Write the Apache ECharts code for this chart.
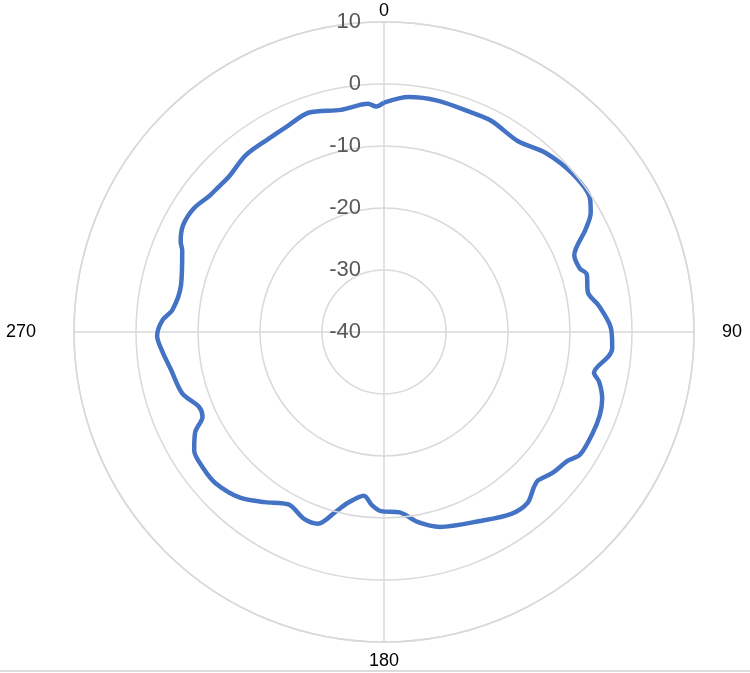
<!DOCTYPE html>
<html>
<head>
<meta charset="utf-8">
<script src="https://cdn.jsdelivr.net/npm/echarts@6/dist/echarts.min.js"></script>
<style>
html,body{margin:0;padding:0;background:#fff;}
#chart{width:750px;height:673px;}
</style>
</head>
<body>
<div id="chart"></div>
<script>
// Angle (degrees, clockwise from top) of each traced point
const angles = [0, 6, 13, 21, 27, 35, 42, 50, 57, 60, 63, 68, 72, 74, 79, 83, 89, 94, 96, 101, 103, 107, 111, 116, 122, 125, 130, 134, 136, 140, 145, 153, 164, 170, 175, 181, 184, 187, 192, 195, 199, 203, 209, 215, 221, 228, 233, 238, 242, 245, 248, 253, 260, 265, 269, 273, 276, 283, 292, 294, 298, 303, 308, 311, 315, 322, 329, 335, 341, 349, 356, 358, 360];
// Radial value at each angle
const values = [-3.0, -1.9, -1.7, -1.9, -1.8, -2.4, -1.1, -0.3, -0.4, -1.5, -3.5, -6.9, -6.8, -6.0, -6.5, -5.1, -3.4, -3.1, -3.5, -5.5, -4.4, -3.2, -2.7, -2.6, -2.7, -3.8, -4.6, -5.5, -5.2, -4.0, -4.2, -5.8, -7.3, -8.9, -10.8, -11.1, -12.0, -13.4, -11.8, -10.0, -7.3, -7.2, -8.2, -6.5, -4.6, -3.5, -3.5, -3.9, -5.5, -7.7, -7.8, -6.0, -5.1, -4.1, -3.4, -4.2, -5.7, -6.4, -4.9, -4.1, -3.3, -3.4, -4.3, -4.5, -4.6, -3.8, -3.7, -3.3, -2.6, -3.5, -3.1, -3.6, -3.0];
const angleTicks = [0, 90, 180, 270];
const radiusTicks = [-40, -30, -20, -10, 0, 10];

const data = angles.map((a, i) => [values[i], a]);
const gridColor = '#d9d9d9';

const chart = echarts.init(document.getElementById('chart'), null, {renderer: 'canvas'});
chart.setOption({
  animation: false,
  backgroundColor: '#ffffff',
  polar: { center: [384, 332], radius: 310 },
  angleAxis: {
    type: 'value',
    min: angleTicks[0],
    max: 360,
    interval: 90,
    startAngle: 90,
    clockwise: true,
    axisLine: { show: true, lineStyle: { color: gridColor, width: 1.5 } },
    axisTick: { show: false },
    splitLine: { show: true, lineStyle: { color: gridColor, width: 1.5 } },
    axisLabel: {
      margin: 2,
      fontFamily: 'Liberation Sans',
      fontSize: 18,
      color: '#000000',
      formatter: function (v) {
        if (v === 360) return '';
        if (v === 90) return '{r|' + v + '}';
        if (v === 270) return '{l|' + v + '}';
        if (v === 180) return '{b|' + v + '}';
        return '{t|' + v + '}';
      },
      rich: {
        r: { fontFamily: 'Liberation Sans', fontSize: 18, color: '#000', padding: [0, 0, 0, 26] },
        l: { fontFamily: 'Liberation Sans', fontSize: 18, color: '#000', padding: [0, 36, 0, 0] },
        b: { fontFamily: 'Liberation Sans', fontSize: 18, color: '#000', padding: [8, 0, 0, 0] },
        t: { fontFamily: 'Liberation Sans', fontSize: 18, color: '#000', padding: [0, 0, 0, 0] }
      }
    }
  },
  radiusAxis: {
    type: 'value',
    min: radiusTicks[0],
    max: radiusTicks[radiusTicks.length - 1],
    interval: 10,
    axisLine: { show: false },
    axisTick: { show: false },
    splitLine: { show: true, lineStyle: { color: gridColor, width: 1.5 } },
    axisLabel: {
      margin: 23,
      fontFamily: 'Liberation Sans',
      fontSize: 22,
      color: '#595959'
    },
    z: 5
  },
  series: [{
    type: 'line',
    coordinateSystem: 'polar',
    data: data,
    smooth: 0.3,
    symbol: 'none',
    lineStyle: { color: '#4472C4', width: 4.5 },
    z: 3
  }],
  graphic: [{
    type: 'rect',
    shape: { x: 0, y: 670, width: 750, height: 2 },
    style: { fill: '#dcdcdc' },
    silent: true
  }]
});
</script>
</body>
</html>
